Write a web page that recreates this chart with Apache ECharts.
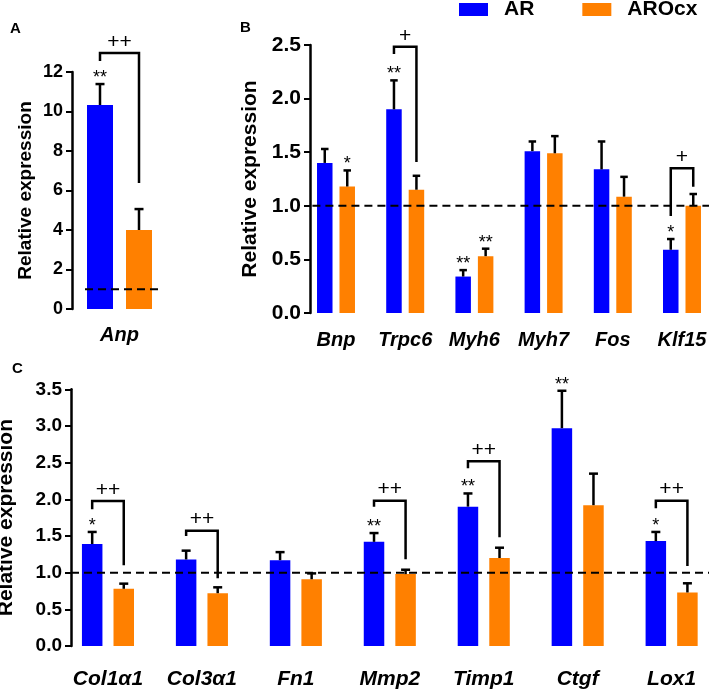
<!DOCTYPE html>
<html><head><meta charset="utf-8">
<script src="https://cdn.jsdelivr.net/npm/echarts@6/dist/echarts.min.js"></script>
<style>html,body{margin:0;padding:0;background:#fff}#c{width:709px;height:694px}</style>
</head><body><div id="c"></div>
<script>
// ---------- DATA ----------
// Panel A
const catsA = ['Anp'];
const arA = [10.33];
const arASem = [1.06];
const aroA = [4.0];
const aroASem = [1.06];
const starsArA = ['**'];
const starsAroA = [''];
const bracketsA = [[0, 12.96, 12.56, 6.38, '++']]; // [category, top, leftBottom, rightBottom, label]
const yTicksA = [0, 2, 4, 6, 8, 10, 12];

// Panel B
const catsB = ['Bnp', 'Trpc6', 'Myh6', 'Myh7', 'Fos', 'Klf15'];
const arB = [1.40, 1.90, 0.34, 1.51, 1.34, 0.59];
const arBSem = [0.13, 0.27, 0.06, 0.09, 0.26, 0.10];
const aroB = [1.18, 1.15, 0.53, 1.49, 1.085, 1.00];
const aroBSem = [0.15, 0.13, 0.07, 0.16, 0.185, 0.11];
const starsArB = ['', '**', '**', '', '', '*'];
const starsAroB = ['*', '', '**', '', '', ''];
const bracketsB = [[1, 2.484, 2.416, 1.408, '+'], [5, 1.35, 0.905, 1.178, '+']];
const yTicksB = [0, 0.5, 1.0, 1.5, 2.0, 2.5];

// Panel C
const catsC = ['Col1α1', 'Col3α1', 'Fn1', 'Mmp2', 'Timp1', 'Ctgf', 'Lox1'];
const arC = [1.39, 1.18, 1.17, 1.42, 1.90, 2.97, 1.43];
const arCSem = [0.165, 0.12, 0.11, 0.12, 0.18, 0.51, 0.125];
const aroC = [0.78, 0.72, 0.91, 0.98, 1.20, 1.92, 0.73];
const aroCSem = [0.07, 0.08, 0.08, 0.06, 0.14, 0.43, 0.125];
const starsArC = ['*', '', '', '**', '**', '**', '*'];
const starsAroC = ['', '', '', '', '', '', ''];
const bracketsC = [[0, 1.978, 1.865, 1.10, '++'], [1, 1.573, 1.50, 0.924, '++'], [3, 1.982, 1.90, 1.183, '++'], [4, 2.52, 2.424, 1.483, '++'], [6, 1.982, 1.878, 1.09, '++']];
const yTicksC = [0, 0.5, 1.0, 1.5, 2.0, 2.5, 3.0, 3.5];

const refValue = 1.0;
const seriesNames = ['AR', 'AROcx'];
const panelLetters = ['A', 'B', 'C'];

// ---------- STYLE ----------
const BLUE = '#0000ff', ORANGE = '#ff8000', INK = '#000';
const FONT = '"Liberation Sans", Arial, Helvetica, sans-serif';

const panels = [
  { cats: catsA, ar: arA, arSem: arASem, aro: aroA, aroSem: aroASem, sAr: starsArA, sAro: starsAroA, br: bracketsA, ticks: yTicksA, dec: 0,
    grid: { left: 72, top: 72, width: 95, height: 237 }, yOff: 0, barW: 26, gap: 0.5, capW: 9,
    tickFs: 18, nameFs: 19, nameGap: 37, xFs: 20, xMargin: 16, refStart: 13, refEnd: -5 },
  { cats: catsB, ar: arB, arSem: arBSem, aro: aroB, aroSem: aroBSem, sAr: starsArB, sAro: starsAroB, br: bracketsB, ticks: yTicksB, dec: 1,
    grid: { left: 301.4, top: 45, width: 415.2, height: 268 }, yOff: -8.6, barW: 15.5, gap: 0.45, capW: 7.5,
    tickFs: 21, nameFs: 21, nameGap: 42, xFs: 20, xMargin: 17, refStart: 11, refEnd: 0 },
  { cats: catsC, ar: arC, arSem: arCSem, aro: aroC, aroSem: aroCSem, sAr: starsArC, sAro: starsAroC, br: bracketsC, ticks: yTicksC, dec: 1,
    grid: { left: 61, top: 389.3, width: 657.6, height: 256.7 }, yOff: -10, barW: 20.5, gap: 0.54, capW: 9,
    tickFs: 19, nameFs: 21, nameGap: 54, xFs: 21, xMargin: 23, refStart: 10, refEnd: 0 }
];

const grids = [], xAxes = [], yAxes = [], series = [];

function errRender(stars, off, capW) {
  return function (params, api) {
    const c = api.value(0), m = api.value(1), s = api.value(2);
    const x = api.coord([c, 0])[0] + off;
    const yM = api.coord([c, m])[1];
    const yT = api.coord([c, m + s])[1];
    const ch = [
      { type: 'line', shape: { x1: x, y1: yM, x2: x, y2: yT }, style: { stroke: INK, lineWidth: 2.5 } },
      { type: 'line', shape: { x1: x - capW / 2, y1: yT, x2: x + capW / 2, y2: yT }, style: { stroke: INK, lineWidth: 2.5 } }
    ];
    const st = stars[params.dataIndex];
    if (st) ch.push({ type: 'text', x: x, y: yT - 6, style: { text: st, fill: INK, font: '18px ' + FONT, align: 'center', verticalAlign: 'middle' } });
    return { type: 'group', children: ch };
  };
}

function brRender(list, off) {
  return function (params, api) {
    const c = api.value(0);
    const cx = api.coord([c, 0])[0];
    const yTop = api.coord([c, api.value(1)])[1];
    const yL = api.coord([c, api.value(2)])[1];
    const yR = api.coord([c, api.value(3)])[1];
    const lx = cx - off, rx = cx + off;
    return { type: 'group', children: [
      { type: 'polyline', shape: { points: [[lx, yL], [lx, yTop], [rx, yTop], [rx, yR]] }, style: { stroke: INK, lineWidth: 2.5, fill: null } },
      { type: 'text', x: cx, y: yTop - 11, style: { text: list[params.dataIndex][4], fill: INK, font: '21px ' + FONT, align: 'center', verticalAlign: 'middle' } }
    ] };
  };
}

function refRender(p) {
  return function (params, api) {
    const cs = params.coordSys;
    const y = api.coord([0, api.value(1)])[1];
    return { type: 'line', shape: { x1: cs.x + p.refStart, y1: y, x2: cs.x + cs.width + p.refEnd, y2: y },
      style: { stroke: INK, lineWidth: 2, lineDash: [8, 5] } };
  };
}

panels.forEach((p, i) => {
  grids.push(Object.assign({ outerBoundsMode: 'none', containLabel: false }, p.grid));
  xAxes.push({
    type: 'category', gridIndex: i, data: p.cats,
    axisLine: { show: false }, axisTick: { show: false }, splitLine: { show: false },
    axisLabel: { interval: 0, margin: p.xMargin, color: INK, fontSize: p.xFs, fontWeight: 'bold', fontStyle: 'italic', fontFamily: FONT }
  });
  yAxes.push({
    type: 'value', gridIndex: i, min: p.ticks[0], max: p.ticks[p.ticks.length - 1], interval: p.ticks[1] - p.ticks[0],
    offset: p.yOff,
    name: 'Relative expression', nameLocation: 'middle', nameGap: p.nameGap,
    nameTextStyle: { color: INK, fontSize: p.nameFs, fontWeight: 'bold', fontFamily: FONT },
    axisLine: { show: true, lineStyle: { color: INK, width: 2.5 } },
    axisTick: { show: true, length: 6, lineStyle: { color: INK, width: 2 } },
    splitLine: { show: false },
    axisLabel: { margin: 9, color: INK, fontSize: p.tickFs, fontWeight: 'bold', fontFamily: FONT,
      formatter: v => Number(v).toFixed(p.dec) }
  });
  const off = p.barW * (1 + p.gap) / 2;
  series.push({ type: 'bar', name: seriesNames[0], xAxisIndex: i, yAxisIndex: i, data: p.ar, barWidth: p.barW, barGap: (p.gap * 100) + '%',
    itemStyle: { color: BLUE }, silent: true });
  series.push({ type: 'bar', name: seriesNames[1], xAxisIndex: i, yAxisIndex: i, data: p.aro, barWidth: p.barW, barGap: (p.gap * 100) + '%',
    itemStyle: { color: ORANGE }, silent: true });
  series.push({ type: 'custom', xAxisIndex: i, yAxisIndex: i, clip: false, silent: true, z: 5,
    data: p.ar.map((v, k) => [k, v, p.arSem[k]]), renderItem: errRender(p.sAr, -off, p.capW) });
  series.push({ type: 'custom', xAxisIndex: i, yAxisIndex: i, clip: false, silent: true, z: 5,
    data: p.aro.map((v, k) => [k, v, p.aroSem[k]]), renderItem: errRender(p.sAro, off, p.capW) });
  series.push({ type: 'custom', xAxisIndex: i, yAxisIndex: i, clip: false, silent: true, z: 5,
    data: p.br.map(b => [b[0], b[1], b[2], b[3]]), renderItem: brRender(p.br, off) });
  series.push({ type: 'custom', xAxisIndex: i, yAxisIndex: i, clip: false, silent: true, z: 6,
    data: [[0, refValue]], renderItem: refRender(p) });
});

const chart = echarts.init(document.getElementById('c'), null, { renderer: 'canvas' });
chart.setOption({
  animation: false,
  backgroundColor: '#fff',
  textStyle: { fontFamily: FONT },
  title: [
    { text: panelLetters[0], left: 10, top: 21, padding: 0, textStyle: { fontSize: 15, fontWeight: 'bold', color: INK, fontFamily: FONT } },
    { text: panelLetters[1], left: 240, top: 20, padding: 0, textStyle: { fontSize: 15, fontWeight: 'bold', color: INK, fontFamily: FONT } },
    { text: panelLetters[2], left: 12, top: 361, padding: 0, textStyle: { fontSize: 15, fontWeight: 'bold', color: INK, fontFamily: FONT } }
  ],
  legend: {
    data: seriesNames, left: 459, top: -1, padding: 0, itemWidth: 29, itemHeight: 13, itemGap: 48,
    icon: 'rect', selectedMode: false,
    textStyle: { fontSize: 21, fontWeight: 'bold', color: INK, fontFamily: FONT, padding: [0, 0, 0, 11] }
  },
  grid: grids, xAxis: xAxes, yAxis: yAxes, series: series
});
</script>
</body></html>
